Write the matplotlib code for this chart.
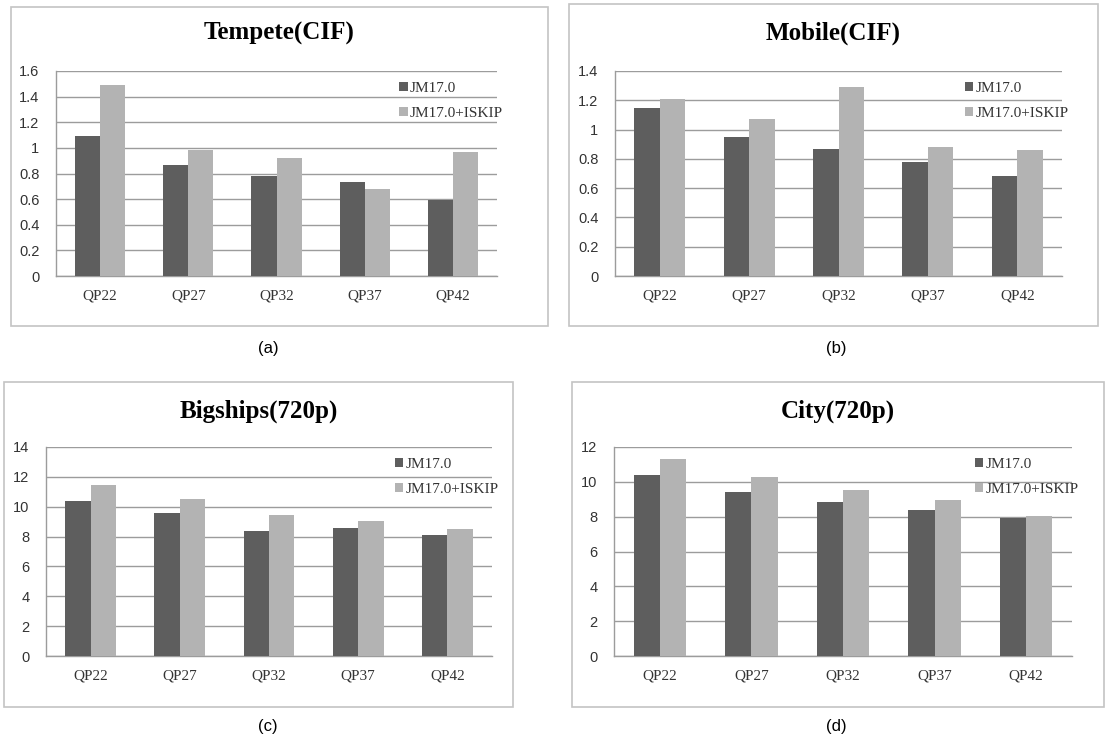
import matplotlib
matplotlib.use("Agg")
import matplotlib.pyplot as plt
from matplotlib.patches import Rectangle
import numpy as np

# ============================
# Bit-rate comparison, 4 sequences
# ============================

categories = ["QP22", "QP27", "QP32", "QP37", "QP42"]
series_names = ["JM17.0", "JM17.0+ISKIP"]

titles = ["Tempete(CIF)", "Mobile(CIF)", "Bigships(720p)", "City(720p)"]
captions = ["(a)", "(b)", "(c)", "(d)"]

tempete_jm = [1.09, 0.87, 0.78, 0.73, 0.59]
tempete_iskip = [1.49, 0.98, 0.92, 0.68, 0.97]

mobile_jm = [1.15, 0.95, 0.87, 0.78, 0.68]
mobile_iskip = [1.21, 1.07, 1.29, 0.88, 0.86]

bigships_jm = [10.4, 9.55, 8.35, 8.6, 8.1]
bigships_iskip = [11.45, 10.5, 9.45, 9.05, 8.5]

city_jm = [10.4, 9.4, 8.85, 8.4, 7.9]
city_iskip = [11.3, 10.3, 9.55, 8.95, 8.05]

yticks_list = [
    [0, 0.2, 0.4, 0.6, 0.8, 1, 1.2, 1.4, 1.6],
    [0, 0.2, 0.4, 0.6, 0.8, 1, 1.2, 1.4],
    [0, 2, 4, 6, 8, 10, 12, 14],
    [0, 2, 4, 6, 8, 10, 12],
]
ytick_labels_list = [[("%g" % v) for v in t] for t in yticks_list]

data = [
    (tempete_jm, tempete_iskip),
    (mobile_jm, mobile_iskip),
    (bigships_jm, bigships_iskip),
    (city_jm, city_iskip),
]

W, H = 1107, 744
fig = plt.figure(figsize=(W / 100, H / 100), dpi=100)
fig.patch.set_facecolor("white")

def fx(px):
    return px / W

def fy(py):
    return 1 - py / H

# panel boxes (left, top, right, bottom) and axes areas (left, top, right, bottom), pixels
boxes = [(11, 7, 548, 326), (569, 4, 1098, 326), (4, 382, 513, 707), (572, 382, 1104, 707)]
axes_px = [(56, 71, 497, 276), (615, 71, 1062, 276), (46, 447, 492, 656), (614, 447, 1072, 656)]
title_y = [33, 33, 411, 411]
caption_pos = [(268, 349), (836, 349), (268, 727), (836, 727)]

dark = "#5e5e5e"
light = "#b3b3b3"
grid_col = "#9c9c9c"
serif = ["Liberation Serif", "DejaVu Serif"]
sans = ["Liberation Sans", "DejaVu Sans"]

x = np.arange(len(categories))
bw = 0.285

for i in range(4):
    l, t, r, b = boxes[i]
    fig.patches.append(Rectangle((fx(l), fy(b)), fx(r) - fx(l), fy(t) - fy(b),
                                 transform=fig.transFigure, fill=False,
                                 edgecolor="#c4c4c4", linewidth=1.2))
    al, at, ar, ab = axes_px[i]
    ax = fig.add_axes([fx(al), fy(ab), fx(ar) - fx(al), fy(at) - fy(ab)])
    jm, isk = data[i]
    ax.bar(x - bw / 2, jm, bw, color=dark, label=series_names[0], zorder=3)
    ax.bar(x + bw / 2, isk, bw, color=light, label=series_names[1], zorder=3)
    ax.set_xlim(-0.5, len(categories) - 0.5)
    ax.set_ylim(0, yticks_list[i][-1])
    ax.set_yticks(yticks_list[i])
    ax.set_yticklabels(ytick_labels_list[i], fontfamily=sans, fontsize=10.5, color="#333333")
    ax.set_xticks(x)
    ax.set_xticklabels(categories, fontfamily=serif, fontsize=11, color="#333333")
    ax.tick_params(length=0, pad=10)
    ax.tick_params(axis="y", pad=12)
    ax.grid(axis="y", color=grid_col, linewidth=1, zorder=0)
    for s in ["top", "right"]:
        ax.spines[s].set_visible(False)
    for s in ["left", "bottom"]:
        ax.spines[s].set_color(grid_col)
        ax.spines[s].set_linewidth(1)
    leg = ax.legend(loc="upper right", bbox_to_anchor=(1.045, 1.015), frameon=False,
                    prop={"family": serif, "size": 11}, handlelength=0.55,
                    handleheight=0.55, handletextpad=0.15, labelspacing=0.8)
    for txt in leg.get_texts():
        txt.set_color("#333333")
    cx = (boxes[i][0] + boxes[i][2]) / 2
    fig.text(fx(cx), fy(title_y[i]), titles[i], ha="center", va="center",
             fontfamily=serif, fontweight="bold", fontsize=18)
    px, py = caption_pos[i]
    fig.text(fx(px), fy(py), captions[i], ha="center", va="center",
             fontfamily=sans, fontsize=12)

plt.savefig("out.png", dpi=100)
plt.close()
